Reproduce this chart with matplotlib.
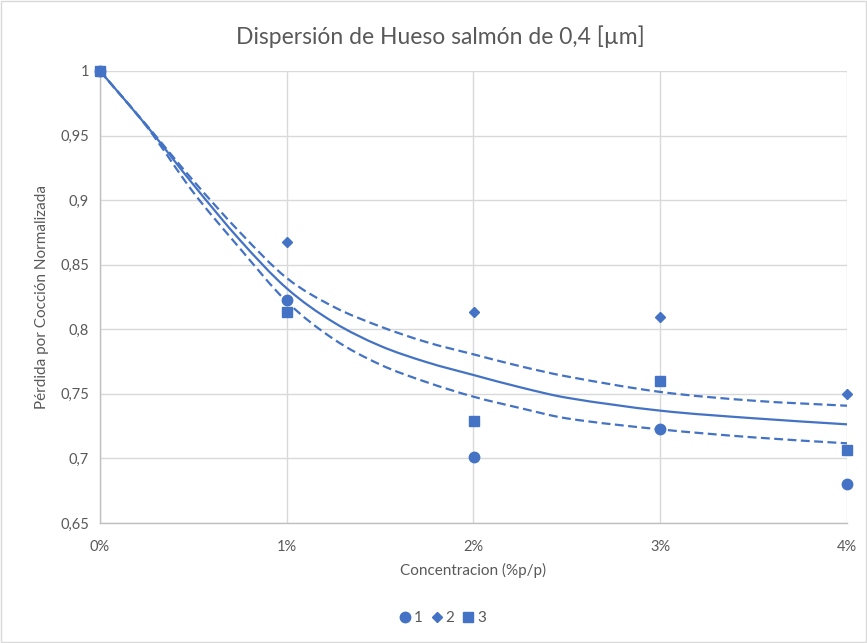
import matplotlib
matplotlib.use("Agg")
import matplotlib.pyplot as plt
from matplotlib.ticker import FuncFormatter, MultipleLocator
from matplotlib.patches import Rectangle, PathPatch
from matplotlib.path import Path

# ---- data ----
concentracion = [0.00, 0.01, 0.02, 0.03, 0.04]
serie_1 = [1.0, 0.8227, 0.7011, 0.7225, 0.6799]
serie_2 = [1.0, 0.8676, 0.8131, 0.8098, 0.7497]
serie_3 = [1.0, 0.8134, 0.7292, 0.7597, 0.7065]

# trend curves
curva_x = [0.0, 0.0025, 0.005, 0.0075, 0.01, 0.0125, 0.015, 0.0175, 0.02,
           0.0225, 0.025, 0.03, 0.035, 0.04]
curva_media = [1.0, 0.9575, 0.912, 0.869, 0.8317, 0.8055, 0.7872, 0.7745, 0.7646,
               0.7551, 0.7470, 0.737, 0.7311, 0.7264]
curva_sup = [1.0, 0.958, 0.915, 0.875, 0.8397, 0.8175, 0.8022, 0.790, 0.7806,
             0.7714, 0.7635, 0.7515, 0.7447, 0.7408]
curva_inf = [1.0, 0.957, 0.906, 0.8625, 0.8214, 0.7925, 0.7727, 0.759, 0.7478,
             0.739, 0.731, 0.7225, 0.7163, 0.7117]

titulo = "Dispersión de Hueso salmón de 0,4 [µm]"
etiqueta_x = "Concentracion (%p/p)"
etiqueta_y = "Pérdida por Cocción Normalizada"
nombres = ["1", "2", "3"]

# ---- style ----
plt.rcParams['font.family'] = ['Lato', 'DejaVu Sans']
azul = "#4472C4"
gris_txt = "#595959"
gris_grid = "#d9d9d9"


def smooth_path(xs, ys):
    """Cubic Hermite curve through the points, as Bezier segments."""
    n = len(xs)
    m = []
    for i in range(n):
        if i == 0:
            m.append((ys[1] - ys[0]) / (xs[1] - xs[0]))
        elif i == n - 1:
            m.append((ys[-1] - ys[-2]) / (xs[-1] - xs[-2]))
        else:
            m.append((ys[i + 1] - ys[i - 1]) / (xs[i + 1] - xs[i - 1]))
    verts = [(xs[0], ys[0])]
    codes = [Path.MOVETO]
    for i in range(n - 1):
        h = xs[i + 1] - xs[i]
        verts += [(xs[i] + h / 3, ys[i] + m[i] * h / 3),
                  (xs[i + 1] - h / 3, ys[i + 1] - m[i + 1] * h / 3),
                  (xs[i + 1], ys[i + 1])]
        codes += [Path.CURVE4] * 3
    return Path(verts, codes)


fig = plt.figure(figsize=(8.67, 6.43), dpi=100)
ax = fig.add_axes([100/867, 1-523/643, 747/867, 452/643])

ax.add_patch(PathPatch(smooth_path(curva_x, curva_media), fill=False,
                       edgecolor=azul, lw=1.6, zorder=3))
for c in (curva_sup, curva_inf):
    ax.add_patch(PathPatch(smooth_path(curva_x, c), fill=False,
                           edgecolor=azul, lw=1.6, ls=(0, (4, 2)), zorder=3))

ax.plot(concentracion, serie_1, 'o', color=azul, ms=7.5, ls='none',
        label=nombres[0], clip_on=False, zorder=4)
ax.plot(concentracion, serie_2, 'D', color=azul, ms=5.5, ls='none',
        label=nombres[1], clip_on=False, zorder=4)
ax.plot(concentracion, serie_3, 's', color=azul, ms=7.5, ls='none',
        label=nombres[2], clip_on=False, zorder=4)

ax.set_xlim(0, 0.04)
ax.set_ylim(0.65, 1.0)
ax.xaxis.set_major_locator(MultipleLocator(0.01))
ax.yaxis.set_major_locator(MultipleLocator(0.05))
ax.xaxis.set_major_formatter(FuncFormatter(lambda v, p: f"{v*100:.0f}%"))


def fmt_y(v, p):
    s = f"{v:.2f}".rstrip('0').rstrip('.')
    return s.replace('.', ',')


ax.yaxis.set_major_formatter(FuncFormatter(fmt_y))

ax.grid(True, color=gris_grid, lw=1.0)
ax.set_axisbelow(True)
for s in ['top', 'right']:
    ax.spines[s].set_visible(False)
for s in ['left', 'bottom']:
    ax.spines[s].set_color('#bfbfbf')
    ax.spines[s].set_linewidth(1.0)
ax.tick_params(length=0, colors=gris_txt, labelsize=10.5, pad=8)
ax.tick_params(axis='x', pad=12)

ax.set_xlabel(etiqueta_x, color=gris_txt, fontsize=11, labelpad=7)
ax.set_ylabel(etiqueta_y, color=gris_txt, fontsize=11, labelpad=8)
fig.text(440/867, 1-37/643, titulo, ha='center', va='center',
         color=gris_txt, fontsize=16.5)

leg = fig.legend(loc='center', bbox_to_anchor=(441/867, 1-618/643), ncol=3,
                 frameon=False, handletextpad=0.0, columnspacing=0.3,
                 fontsize=11, labelcolor=gris_txt, handlelength=1.2)

fig.patches.append(Rectangle((0.001, 0.001), 0.998, 0.998, transform=fig.transFigure,
                             fill=False, edgecolor='#d9d9d9', lw=1.0))

fig.savefig("out.png", dpi=100, facecolor='white')
